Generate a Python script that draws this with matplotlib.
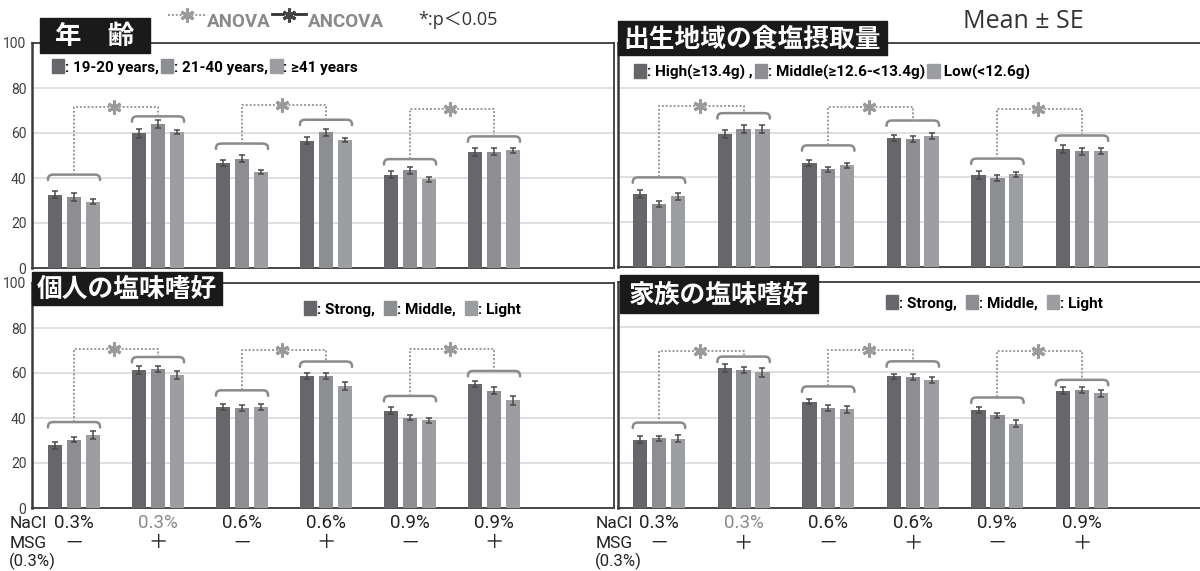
import matplotlib.pyplot as plt
from matplotlib.patches import Rectangle, PathPatch
from matplotlib.path import Path
from matplotlib.lines import Line2D
import numpy as np

plt.rcParams['font.family'] = ['Roboto', 'DejaVu Sans']

W, H = 1200, 571

nacl_labels = ["0.3%", "0.3%", "0.6%", "0.6%", "0.9%", "0.9%"]
msg_labels = ["－", "＋", "－", "＋", "－", "＋"]
y_ticks = [0, 20, 40, 60, 80, 100]

# 年齢
age_names = [": 19-20 years,", ": 21-40 years,", ": ≥41 years"]
age_1920 = [32.6, 59.9, 46.5, 56.6, 41.5, 51.7]
age_2140 = [31.7, 64.0, 48.6, 60.3, 43.4, 51.7]
age_41 = [29.5, 60.4, 42.8, 57.0, 39.4, 52.3]
age_1920_se = [1.5, 1.9, 1.3, 1.5, 1.5, 1.8]
age_2140_se = [1.7, 1.6, 1.5, 1.5, 1.5, 1.6]
age_41_se = [1.2, 1.0, 0.9, 0.9, 1.0, 1.0]
age_brackets = [41.5, 67.4, 55.3, 65.9, 48.4, 58.5]
age_links = [71.6, 72.3, 70.7]

# 出生地域の食塩摂取量
region_names = [": High(≥13.4g) ,", ": Middle(≥12.6-<13.4g)", " Low(<12.6g)"]
region_high = [32.5, 59.4, 46.4, 57.6, 41.2, 52.8]
region_mid = [28.1, 61.8, 43.6, 57.3, 39.7, 51.6]
region_low = [31.5, 61.5, 45.4, 58.4, 41.3, 51.8]
region_high_se = [1.9, 1.9, 1.5, 1.5, 1.8, 1.8]
region_mid_se = [1.3, 1.8, 1.2, 1.3, 1.3, 1.5]
region_low_se = [1.5, 1.8, 1.2, 1.3, 1.3, 1.5]
region_brackets = [40.0, 68.7, 54.3, 65.4, 48.4, 58.7]
region_links = [71.9, 71.6, 70.6]

# 個人の塩味嗜好
taste_names = [": Strong,", ": Middle,", ": Light"]
own_strong = [27.9, 61.3, 44.9, 58.7, 43.2, 55.2]
own_mid = [30.4, 61.9, 44.4, 58.8, 40.2, 52.1]
own_light = [32.4, 59.0, 44.9, 54.2, 38.9, 47.8]
own_strong_se = [1.5, 1.9, 1.3, 1.5, 1.5, 1.3]
own_mid_se = [1.2, 1.3, 1.3, 1.3, 1.3, 1.5]
own_light_se = [1.8, 1.8, 1.3, 1.8, 1.3, 1.8]
own_brackets = [38.2, 67.1, 52.3, 65.1, 49.8, 60.9]
own_links = [70.8, 70.2, 70.5]

# 家族の塩味嗜好
fam_strong = [30.2, 61.9, 47.1, 58.2, 43.4, 51.9]
fam_mid = [30.8, 60.9, 44.3, 57.8, 41.0, 52.4]
fam_light = [30.7, 60.1, 43.7, 56.6, 37.3, 50.8]
fam_strong_se = [1.6, 1.6, 1.2, 1.3, 1.5, 1.5]
fam_mid_se = [1.2, 1.3, 1.2, 1.3, 1.2, 1.3]
fam_light_se = [1.6, 2.0, 1.5, 1.5, 1.6, 1.6]
fam_brackets = [37.8, 67.0, 53.8, 64.9, 48.9, 56.7]
fam_links = [69.6, 70.1, 69.3]

colors = ["#67676b", "#8d8e92", "#9d9ea2"]
grey = "#8a8a8a"
cjk = ['Noto Sans CJK JP', 'DejaVu Sans']
bold_latin = ['Roboto', 'DejaVu Sans']


def fx(px):
    return px / W


def fy(py):
    return 1 - py / H


fig = plt.figure(figsize=(12, 5.71), dpi=100)


def bracket(ax, xc, y, half=0.31, drop=2.4, r=0.07):
    x0, x1 = xc - half, xc + half
    verts = [(x0, y - drop), (x0, y - drop * 0.2), (x0 + r * 0.3, y), (x0 + r, y),
             (x1 - r, y), (x1 - r * 0.3, y), (x1, y - drop * 0.2), (x1, y - drop)]
    codes = [Path.MOVETO, Path.CURVE4, Path.CURVE4, Path.CURVE4,
             Path.LINETO, Path.CURVE4, Path.CURVE4, Path.CURVE4]
    ax.add_patch(PathPatch(Path(verts, codes), fill=False, ec=grey, lw=1.8,
                           capstyle='round', zorder=4))


def panel(rect, c0, step, series, errs, brackets, links, left_labels):
    l, t, r, b = rect
    ax = fig.add_axes([fx(l), fy(b), fx(r - l), (b - t) / H])
    ax.set_xlim(-(c0 - l) / step, (r - c0) / step)
    ax.set_ylim(0, 100)
    x = np.arange(6)
    offs = [-0.222, 0, 0.222]
    for vals, se, off, col in zip(series, errs, offs, colors):
        ax.bar(x + off, vals, width=0.17, color=col, zorder=3)
        ax.errorbar(x + off, vals, yerr=se, fmt='none', ecolor='#4a4a4a',
                    elinewidth=1.1, capsize=2.2, capthick=1.1, zorder=5)
    for i, yb in enumerate(brackets):
        bracket(ax, x[i], yb)
    for k, yl in enumerate(links):
        a, c = 2 * k, 2 * k + 1
        ax.plot([a, a, c, c], [brackets[a], yl, yl, brackets[c]], ls=(0, (1, 1)),
                color='#9a9a9a', lw=1.4, zorder=4)
        ax.plot([(a + c) / 2 - 0.02], [yl], marker=(6, 2, 0), ms=10, mew=2.2,
                color='#9a9a9a', zorder=6)
    ax.set_yticks(y_ticks)
    ax.grid(axis='y', color='#d9d9d9', lw=1.2, zorder=0)
    ax.set_xticks([])
    ax.tick_params(axis='y', length=0, pad=4, labelsize=10, labelcolor='#404040')
    if not left_labels:
        ax.set_yticklabels([])
    for s in ax.spines.values():
        s.set_color('#3a3a3a')
        s.set_linewidth(1.3)
    ax.spines['left'].set_linewidth(1.8)
    return ax


ax_age = panel((32, 43, 614, 268), 74, 84, [age_1920, age_2140, age_41],
               [age_1920_se, age_2140_se, age_41_se], age_brackets, age_links, True)
ax_reg = panel((618, 43, 1210, 267), 659, 84.6, [region_high, region_mid, region_low],
               [region_high_se, region_mid_se, region_low_se], region_brackets, region_links, False)
ax_own = panel((32, 283, 614, 508), 74, 84, [own_strong, own_mid, own_light],
               [own_strong_se, own_mid_se, own_light_se], own_brackets, own_links, True)
ax_fam = panel((618, 282, 1210, 508), 659, 84.6, [fam_strong, fam_mid, fam_light],
               [fam_strong_se, fam_mid_se, fam_light_se], fam_brackets, fam_links, False)


def title_box(text, l, t, r, b, size):
    fig.patches.append(Rectangle((fx(l), fy(b)), fx(r - l), (b - t) / H,
                                 transform=fig.transFigure, color='#1a1a1a', zorder=10))
    fig.text(fx((l + r) / 2), fy((t + b) / 2 + 1), text, color='white', fontsize=size,
             fontweight='bold', family=cjk, ha='center', va='center', zorder=11)


title_box("年　齢", 40, 18, 150, 53, 19)
title_box("出生地域の食塩摂取量", 618, 21, 887, 55, 18.5)
title_box("個人の塩味嗜好", 32, 272, 222, 305, 18.5)
title_box("家族の塩味嗜好", 620, 275, 818, 313, 18.5)


def legend(names, xpx, ypx, spacing):
    handles = [Rectangle((0, 0), 1, 1, color=c) for c in colors]
    fig.legend(handles, names, loc='center left', bbox_to_anchor=(fx(xpx), fy(ypx)),
               ncol=3, frameon=False, handlelength=0.8, handleheight=1.0,
               handletextpad=0.05, columnspacing=spacing, borderpad=0, borderaxespad=0,
               prop={'family': bold_latin, 'weight': 'bold', 'size': 11})


legend(age_names, 52, 67, 0.15)
legend(region_names, 634, 72, 0.15)
legend(taste_names, 304, 309, 0.6)
legend(taste_names, 886, 303, 0.6)

# condition labels under the lower panels
for ax, xlab in [(ax_own, 10), (ax_fam, 596)]:
    for i in range(6):
        ax.text(i, -0.067, nacl_labels[i], transform=ax.get_xaxis_transform(),
                ha='center', va='center', fontsize=13.5,
                color='#8a8a8a' if i == 1 else '#222222')
        ax.text(i, -0.155, msg_labels[i], transform=ax.get_xaxis_transform(),
                ha='center', va='center', fontsize=14, family=cjk, color='#222222')
    fig.text(fx(xlab), fy(523), "NaCl", fontsize=12.5, va='center', color='#222222')
    fig.text(fx(xlab), fy(543), "MSG", fontsize=12.5, va='center', color='#222222')
    fig.text(fx(xlab - 1), fy(561), "(0.3%)", fontsize=12, va='center', color='#222222')

# significance key along the top
fig.add_artist(Line2D([fx(168), fx(206)], [fy(15), fy(15)], ls=(0, (1, 1)),
                      color='#9a9a9a', lw=1.4, transform=fig.transFigure))
fig.add_artist(Line2D([fx(187)], [fy(15)], marker=(6, 2, 0), ms=10, mew=2.2,
                      color='#9a9a9a', transform=fig.transFigure))
fig.text(fx(207), fy(22), "ANOVA", fontsize=13.5, fontweight='bold', color='#8a8a8a',
         family=bold_latin, va='center')
fig.add_artist(Line2D([fx(272), fx(283)], [fy(14), fy(14)], color='#333333', lw=2,
                      transform=fig.transFigure))
fig.add_artist(Line2D([fx(295), fx(306)], [fy(14), fy(14)], color='#333333', lw=2,
                      transform=fig.transFigure))
fig.add_artist(Line2D([fx(289)], [fy(15)], marker=(6, 2, 0), ms=10, mew=2.2,
                      color='#444444', transform=fig.transFigure))
fig.text(fx(308), fy(22), "ANCOVA", fontsize=13.5, fontweight='bold', color='#8a8a8a',
         family=bold_latin, va='center')
fig.text(fx(418), fy(20), "*:p＜0.05", fontsize=13, color='#333333',
         family=['Open Sans', 'Noto Sans CJK JP'], va='center')
fig.text(fx(963), fy(22), "Mean ± SE", fontsize=18, color='#333333',
         family=['Open Sans', 'DejaVu Sans'], va='center')

fig.savefig("out.png", dpi=100)
